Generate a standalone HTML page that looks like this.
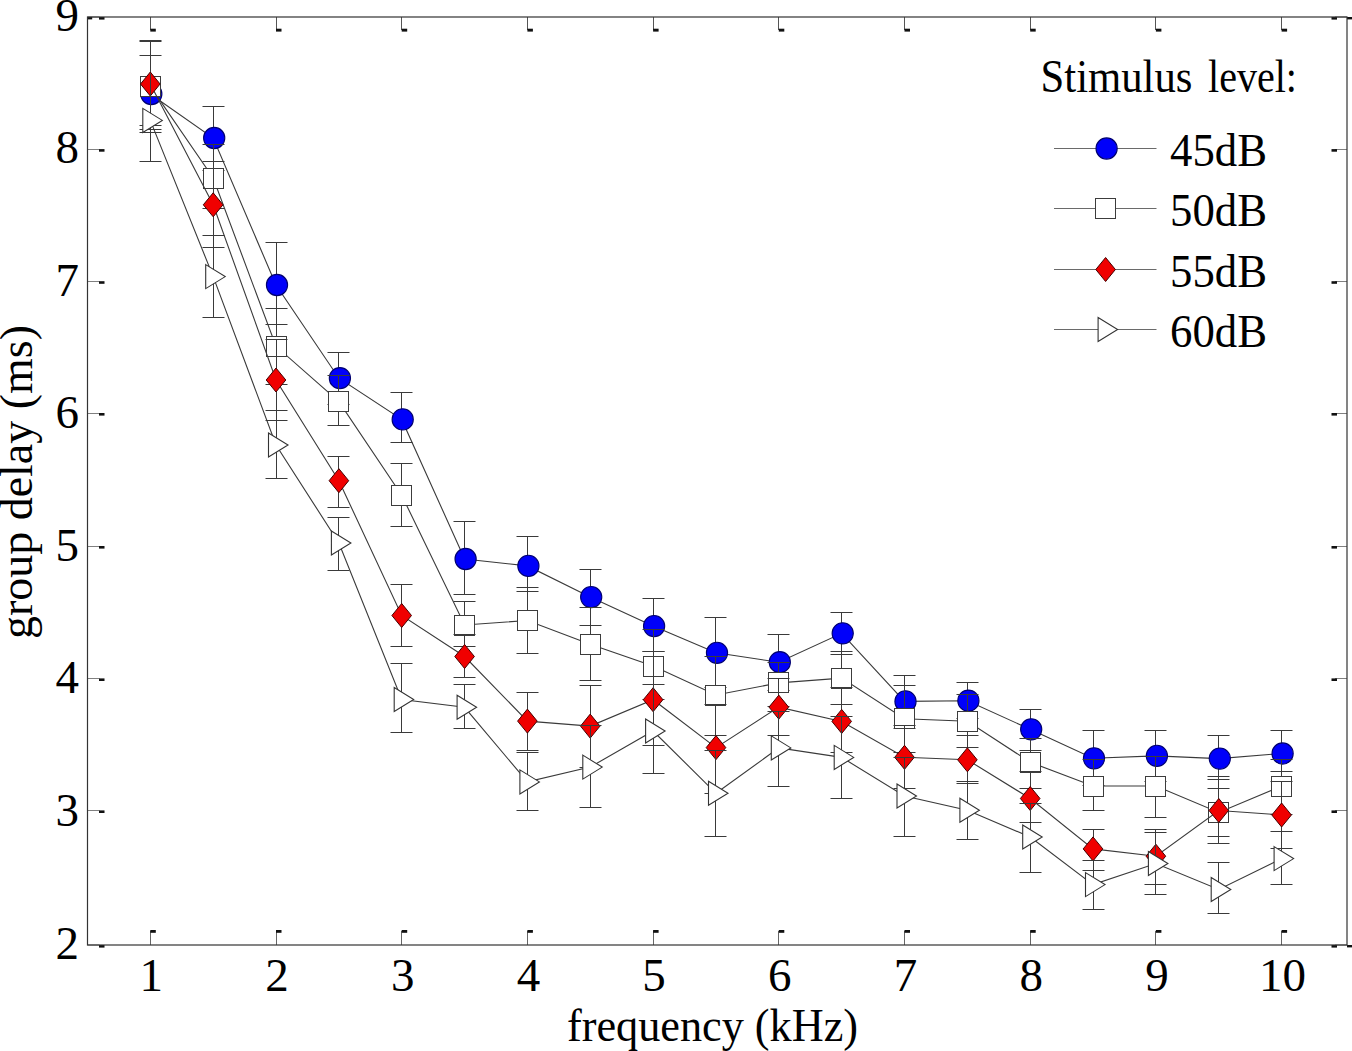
<!DOCTYPE html>
<html><head><meta charset="utf-8"><title>group delay chart</title>
<style>html,body{margin:0;padding:0;background:#fff;} svg{display:block;}</style>
</head><body>
<svg width="1352" height="1051" viewBox="0 0 1352 1051">
<rect width="1352" height="1051" fill="#fff"/>
<line x1="87.5" y1="945.0" x2="99.5" y2="945.0" stroke="#808080" stroke-width="1"/>
<rect x="99.0" y="945.0" width="5.5" height="2.6" fill="#111"/>
<line x1="1347" y1="945.0" x2="1335" y2="945.0" stroke="#808080" stroke-width="1"/>
<rect x="1331.5" y="945.0" width="5.5" height="2.6" fill="#111"/>
<line x1="87.5" y1="810.5" x2="99.5" y2="810.5" stroke="#808080" stroke-width="1"/>
<rect x="99.0" y="810.4" width="5.5" height="2.6" fill="#111"/>
<line x1="1347" y1="810.5" x2="1335" y2="810.5" stroke="#808080" stroke-width="1"/>
<rect x="1331.5" y="810.4" width="5.5" height="2.6" fill="#111"/>
<line x1="87.5" y1="678.5" x2="99.5" y2="678.5" stroke="#808080" stroke-width="1"/>
<rect x="99.0" y="678.4" width="5.5" height="2.6" fill="#111"/>
<line x1="1347" y1="678.5" x2="1335" y2="678.5" stroke="#808080" stroke-width="1"/>
<rect x="1331.5" y="678.4" width="5.5" height="2.6" fill="#111"/>
<line x1="87.5" y1="546.5" x2="99.5" y2="546.5" stroke="#808080" stroke-width="1"/>
<rect x="99.0" y="546.0" width="5.5" height="2.6" fill="#111"/>
<line x1="1347" y1="546.5" x2="1335" y2="546.5" stroke="#808080" stroke-width="1"/>
<rect x="1331.5" y="546.0" width="5.5" height="2.6" fill="#111"/>
<line x1="87.5" y1="413.5" x2="99.5" y2="413.5" stroke="#808080" stroke-width="1"/>
<rect x="99.0" y="413.0" width="5.5" height="2.6" fill="#111"/>
<line x1="1347" y1="413.5" x2="1335" y2="413.5" stroke="#808080" stroke-width="1"/>
<rect x="1331.5" y="413.0" width="5.5" height="2.6" fill="#111"/>
<line x1="87.5" y1="281.5" x2="99.5" y2="281.5" stroke="#808080" stroke-width="1"/>
<rect x="99.0" y="281.2" width="5.5" height="2.6" fill="#111"/>
<line x1="1347" y1="281.5" x2="1335" y2="281.5" stroke="#808080" stroke-width="1"/>
<rect x="1331.5" y="281.2" width="5.5" height="2.6" fill="#111"/>
<line x1="87.5" y1="149.5" x2="99.5" y2="149.5" stroke="#808080" stroke-width="1"/>
<rect x="99.0" y="149.1" width="5.5" height="2.6" fill="#111"/>
<line x1="1347" y1="149.5" x2="1335" y2="149.5" stroke="#808080" stroke-width="1"/>
<rect x="1331.5" y="149.1" width="5.5" height="2.6" fill="#111"/>
<line x1="87.5" y1="17.0" x2="99.5" y2="17.0" stroke="#808080" stroke-width="1"/>
<rect x="99.0" y="17.0" width="5.5" height="2.6" fill="#111"/>
<line x1="1347" y1="17.0" x2="1335" y2="17.0" stroke="#808080" stroke-width="1"/>
<rect x="1331.5" y="17.0" width="5.5" height="2.6" fill="#111"/>
<line x1="150.5" y1="945" x2="150.5" y2="931" stroke="#666" stroke-width="1"/>
<rect x="150.3" y="930.0" width="5.5" height="2.8" fill="#111"/>
<line x1="150.5" y1="17" x2="150.5" y2="30" stroke="#555" stroke-width="1"/>
<rect x="150.3" y="28.7" width="5.5" height="2.9" fill="#111"/>
<line x1="276.5" y1="945" x2="276.5" y2="931" stroke="#666" stroke-width="1"/>
<rect x="276.0" y="930.0" width="5.5" height="2.8" fill="#111"/>
<line x1="276.5" y1="17" x2="276.5" y2="30" stroke="#555" stroke-width="1"/>
<rect x="276.0" y="28.7" width="5.5" height="2.9" fill="#111"/>
<line x1="401.5" y1="945" x2="401.5" y2="931" stroke="#666" stroke-width="1"/>
<rect x="401.7" y="930.0" width="5.5" height="2.8" fill="#111"/>
<line x1="401.5" y1="17" x2="401.5" y2="30" stroke="#555" stroke-width="1"/>
<rect x="401.7" y="28.7" width="5.5" height="2.9" fill="#111"/>
<line x1="527.5" y1="945" x2="527.5" y2="931" stroke="#666" stroke-width="1"/>
<rect x="527.4" y="930.0" width="5.5" height="2.8" fill="#111"/>
<line x1="527.5" y1="17" x2="527.5" y2="30" stroke="#555" stroke-width="1"/>
<rect x="527.4" y="28.7" width="5.5" height="2.9" fill="#111"/>
<line x1="653.5" y1="945" x2="653.5" y2="931" stroke="#666" stroke-width="1"/>
<rect x="653.1" y="930.0" width="5.5" height="2.8" fill="#111"/>
<line x1="653.5" y1="17" x2="653.5" y2="30" stroke="#555" stroke-width="1"/>
<rect x="653.1" y="28.7" width="5.5" height="2.9" fill="#111"/>
<line x1="778.5" y1="945" x2="778.5" y2="931" stroke="#666" stroke-width="1"/>
<rect x="778.8" y="930.0" width="5.5" height="2.8" fill="#111"/>
<line x1="778.5" y1="17" x2="778.5" y2="30" stroke="#555" stroke-width="1"/>
<rect x="778.8" y="28.7" width="5.5" height="2.9" fill="#111"/>
<line x1="904.5" y1="945" x2="904.5" y2="931" stroke="#666" stroke-width="1"/>
<rect x="904.5" y="930.0" width="5.5" height="2.8" fill="#111"/>
<line x1="904.5" y1="17" x2="904.5" y2="30" stroke="#555" stroke-width="1"/>
<rect x="904.5" y="28.7" width="5.5" height="2.9" fill="#111"/>
<line x1="1030.5" y1="945" x2="1030.5" y2="931" stroke="#666" stroke-width="1"/>
<rect x="1030.2" y="930.0" width="5.5" height="2.8" fill="#111"/>
<line x1="1030.5" y1="17" x2="1030.5" y2="30" stroke="#555" stroke-width="1"/>
<rect x="1030.2" y="28.7" width="5.5" height="2.9" fill="#111"/>
<line x1="1155.5" y1="945" x2="1155.5" y2="931" stroke="#666" stroke-width="1"/>
<rect x="1155.9" y="930.0" width="5.5" height="2.8" fill="#111"/>
<line x1="1155.5" y1="17" x2="1155.5" y2="30" stroke="#555" stroke-width="1"/>
<rect x="1155.9" y="28.7" width="5.5" height="2.9" fill="#111"/>
<line x1="1281.5" y1="945" x2="1281.5" y2="931" stroke="#666" stroke-width="1"/>
<rect x="1281.6" y="930.0" width="5.5" height="2.8" fill="#111"/>
<line x1="1281.5" y1="17" x2="1281.5" y2="30" stroke="#555" stroke-width="1"/>
<rect x="1281.6" y="28.7" width="5.5" height="2.9" fill="#111"/>
<rect x="87.2" y="17" width="5" height="2.4" fill="#111"/>
<rect x="1347" y="17" width="5" height="2.4" fill="#111"/>
<rect x="1347" y="945" width="5" height="2.4" fill="#111"/>
<rect x="87.5" y="17" width="1259.5" height="928" fill="none" stroke="#333" stroke-width="1.2"/>
<path d="M150.5,55.5V132.5M139.5,132.5H161.5M139.5,55.5H161.5M213.5,106.5V170.5M202.5,170.5H224.5M202.5,106.5H224.5M276.5,242.5V324.5M265.5,324.5H287.5M265.5,242.5H287.5M338.5,352.5V404.5M327.5,404.5H349.5M327.5,352.5H349.5M401.5,392.5V442.5M390.5,442.5H412.5M390.5,392.5H412.5M464.5,521.5V594.5M453.5,594.5H475.5M453.5,521.5H475.5M527.5,536.5V591.5M516.5,591.5H538.5M516.5,536.5H538.5M590.5,569.5V625.5M579.5,625.5H601.5M579.5,569.5H601.5M653.5,598.5V651.5M642.5,651.5H664.5M642.5,598.5H664.5M715.5,617.5V687.5M704.5,687.5H726.5M704.5,617.5H726.5M778.5,634.5V690.5M767.5,690.5H789.5M767.5,634.5H789.5M841.5,612.5V654.5M830.5,654.5H852.5M830.5,612.5H852.5M904.5,675.5V728.5M893.5,728.5H915.5M893.5,675.5H915.5M967.5,682.5V718.5M956.5,718.5H978.5M956.5,682.5H978.5M1030.5,709.5V750.5M1019.5,750.5H1041.5M1019.5,709.5H1041.5M1093.5,730.5V785.5M1082.5,785.5H1104.5M1082.5,730.5H1104.5M1155.5,730.5V781.5M1144.5,781.5H1166.5M1144.5,730.5H1166.5M1218.5,735.5V779.5M1207.5,779.5H1229.5M1207.5,735.5H1229.5M1281.5,730.5V771.5M1270.5,771.5H1292.5M1270.5,730.5H1292.5" stroke="#3a3a3a" stroke-width="1" fill="none"/>
<polyline points="150.3,94.0 213.2,138.0 276.0,285.0 338.9,378.2 401.7,419.4 464.6,559.0 527.4,565.9 590.2,597.1 653.1,626.1 716.0,652.8 778.8,662.2 841.7,633.3 904.5,701.4 967.4,700.7 1030.2,729.3 1093.0,758.3 1155.9,755.9 1218.8,758.6 1281.6,753.5" stroke="#3a3a3a" stroke-width="1.1" fill="none"/>
<circle cx="151.3" cy="94.0" r="10.6" fill="#0000fa" stroke="#000070" stroke-width="1.1"/>
<circle cx="214.2" cy="138.0" r="10.6" fill="#0000fa" stroke="#000070" stroke-width="1.1"/>
<circle cx="277.0" cy="285.0" r="10.6" fill="#0000fa" stroke="#000070" stroke-width="1.1"/>
<circle cx="339.9" cy="378.2" r="10.6" fill="#0000fa" stroke="#000070" stroke-width="1.1"/>
<circle cx="402.7" cy="419.4" r="10.6" fill="#0000fa" stroke="#000070" stroke-width="1.1"/>
<circle cx="465.6" cy="559.0" r="10.6" fill="#0000fa" stroke="#000070" stroke-width="1.1"/>
<circle cx="528.4" cy="565.9" r="10.6" fill="#0000fa" stroke="#000070" stroke-width="1.1"/>
<circle cx="591.2" cy="597.1" r="10.6" fill="#0000fa" stroke="#000070" stroke-width="1.1"/>
<circle cx="654.1" cy="626.1" r="10.6" fill="#0000fa" stroke="#000070" stroke-width="1.1"/>
<circle cx="717.0" cy="652.8" r="10.6" fill="#0000fa" stroke="#000070" stroke-width="1.1"/>
<circle cx="779.8" cy="662.2" r="10.6" fill="#0000fa" stroke="#000070" stroke-width="1.1"/>
<circle cx="842.7" cy="633.3" r="10.6" fill="#0000fa" stroke="#000070" stroke-width="1.1"/>
<circle cx="905.5" cy="701.4" r="10.6" fill="#0000fa" stroke="#000070" stroke-width="1.1"/>
<circle cx="968.4" cy="700.7" r="10.6" fill="#0000fa" stroke="#000070" stroke-width="1.1"/>
<circle cx="1031.2" cy="729.3" r="10.6" fill="#0000fa" stroke="#000070" stroke-width="1.1"/>
<circle cx="1094.0" cy="758.3" r="10.6" fill="#0000fa" stroke="#000070" stroke-width="1.1"/>
<circle cx="1156.9" cy="755.9" r="10.6" fill="#0000fa" stroke="#000070" stroke-width="1.1"/>
<circle cx="1219.8" cy="758.6" r="10.6" fill="#0000fa" stroke="#000070" stroke-width="1.1"/>
<circle cx="1282.6" cy="753.5" r="10.6" fill="#0000fa" stroke="#000070" stroke-width="1.1"/>
<path d="M150.5,41.5V129.5M139.5,129.5H161.5M139.5,41.5H161.5M213.5,144.5V208.5M202.5,208.5H224.5M202.5,144.5H224.5M276.5,308.5V384.5M265.5,384.5H287.5M265.5,308.5H287.5M338.5,375.5V425.5M327.5,425.5H349.5M327.5,375.5H349.5M401.5,463.5V526.5M390.5,526.5H412.5M390.5,463.5H412.5M464.5,601.5V646.5M453.5,646.5H475.5M453.5,601.5H475.5M527.5,587.5V653.5M516.5,653.5H538.5M516.5,587.5H538.5M590.5,607.5V680.5M579.5,680.5H601.5M579.5,607.5H601.5M653.5,629.5V699.5M642.5,699.5H664.5M642.5,629.5H664.5M715.5,656.5V735.5M704.5,735.5H726.5M704.5,656.5H726.5M778.5,662.5V706.5M767.5,706.5H789.5M767.5,662.5H789.5M841.5,651.5V704.5M830.5,704.5H852.5M830.5,651.5H852.5M904.5,685.5V752.5M893.5,752.5H915.5M893.5,685.5H915.5M967.5,694.5V747.5M956.5,747.5H978.5M956.5,694.5H978.5M1030.5,738.5V788.5M1019.5,788.5H1041.5M1019.5,738.5H1041.5M1093.5,759.5V810.5M1082.5,810.5H1104.5M1082.5,759.5H1104.5M1155.5,756.5V817.5M1144.5,817.5H1166.5M1144.5,756.5H1166.5M1218.5,788.5V836.5M1207.5,836.5H1229.5M1207.5,788.5H1229.5M1281.5,759.5V814.5M1270.5,814.5H1292.5M1270.5,759.5H1292.5" stroke="#3a3a3a" stroke-width="1" fill="none"/>
<polyline points="150.3,86.4 213.2,178.0 276.0,346.3 338.9,401.7 401.7,495.2 464.6,625.0 527.4,620.5 590.2,644.3 653.1,666.0 716.0,695.0 778.8,682.9 841.7,678.1 904.5,718.7 967.4,721.2 1030.2,762.2 1093.0,786.0 1155.9,786.0 1218.8,812.5 1281.6,786.0" stroke="#3a3a3a" stroke-width="1.1" fill="none"/>
<rect x="140.5" y="76.5" width="20" height="20" fill="#fff" stroke="#3c3c3c" stroke-width="1"/>
<rect x="203.5" y="168.5" width="20" height="20" fill="#fff" stroke="#3c3c3c" stroke-width="1"/>
<rect x="266.5" y="336.5" width="20" height="20" fill="#fff" stroke="#3c3c3c" stroke-width="1"/>
<rect x="328.5" y="391.5" width="20" height="20" fill="#fff" stroke="#3c3c3c" stroke-width="1"/>
<rect x="391.5" y="485.5" width="20" height="20" fill="#fff" stroke="#3c3c3c" stroke-width="1"/>
<rect x="454.5" y="615.5" width="20" height="20" fill="#fff" stroke="#3c3c3c" stroke-width="1"/>
<rect x="517.5" y="610.5" width="20" height="20" fill="#fff" stroke="#3c3c3c" stroke-width="1"/>
<rect x="580.5" y="634.5" width="20" height="20" fill="#fff" stroke="#3c3c3c" stroke-width="1"/>
<rect x="643.5" y="656.5" width="20" height="20" fill="#fff" stroke="#3c3c3c" stroke-width="1"/>
<rect x="705.5" y="685.5" width="20" height="20" fill="#fff" stroke="#3c3c3c" stroke-width="1"/>
<rect x="768.5" y="672.5" width="20" height="20" fill="#fff" stroke="#3c3c3c" stroke-width="1"/>
<rect x="831.5" y="668.5" width="20" height="20" fill="#fff" stroke="#3c3c3c" stroke-width="1"/>
<rect x="894.5" y="708.5" width="20" height="20" fill="#fff" stroke="#3c3c3c" stroke-width="1"/>
<rect x="957.5" y="711.5" width="20" height="20" fill="#fff" stroke="#3c3c3c" stroke-width="1"/>
<rect x="1020.5" y="752.5" width="20" height="20" fill="#fff" stroke="#3c3c3c" stroke-width="1"/>
<rect x="1083.5" y="776.5" width="20" height="20" fill="#fff" stroke="#3c3c3c" stroke-width="1"/>
<rect x="1145.5" y="776.5" width="20" height="20" fill="#fff" stroke="#3c3c3c" stroke-width="1"/>
<rect x="1208.5" y="802.5" width="20" height="20" fill="#fff" stroke="#3c3c3c" stroke-width="1"/>
<rect x="1271.5" y="776.5" width="20" height="20" fill="#fff" stroke="#3c3c3c" stroke-width="1"/>
<path d="M150.5,40.5V125.5M139.5,125.5H161.5M139.5,40.5H161.5M213.5,161.5V247.5M202.5,247.5H224.5M202.5,161.5H224.5M276.5,339.5V420.5M265.5,420.5H287.5M265.5,339.5H287.5M338.5,456.5V507.5M327.5,507.5H349.5M327.5,456.5H349.5M401.5,584.5V646.5M390.5,646.5H412.5M390.5,584.5H412.5M464.5,634.5V677.5M453.5,677.5H475.5M453.5,634.5H475.5M527.5,692.5V750.5M516.5,750.5H538.5M516.5,692.5H538.5M590.5,685.5V767.5M579.5,767.5H601.5M579.5,685.5H601.5M653.5,651.5V745.5M642.5,745.5H664.5M642.5,651.5H664.5M715.5,704.5V793.5M704.5,793.5H726.5M704.5,704.5H726.5M778.5,678.5V735.5M767.5,735.5H789.5M767.5,678.5H789.5M841.5,687.5V752.5M830.5,752.5H852.5M830.5,687.5H852.5M904.5,725.5V788.5M893.5,788.5H915.5M893.5,725.5H915.5M967.5,735.5V783.5M956.5,783.5H978.5M956.5,735.5H978.5M1030.5,771.5V822.5M1019.5,822.5H1041.5M1019.5,771.5H1041.5M1093.5,829.5V870.5M1082.5,870.5H1104.5M1082.5,829.5H1104.5M1155.5,829.5V884.5M1144.5,884.5H1166.5M1144.5,829.5H1166.5M1218.5,776.5V843.5M1207.5,843.5H1229.5M1207.5,776.5H1229.5M1281.5,781.5V848.5M1270.5,848.5H1292.5M1270.5,781.5H1292.5" stroke="#3a3a3a" stroke-width="1" fill="none"/>
<polyline points="150.3,84.0 213.2,204.8 276.0,380.0 338.9,480.7 401.7,615.5 464.6,656.5 527.4,721.1 590.2,726.1 653.1,699.7 716.0,747.6 778.8,707.1 841.7,721.4 904.5,757.3 967.4,759.8 1030.2,798.5 1093.0,848.9 1155.9,856.2 1218.8,810.5 1281.6,815.0" stroke="#3a3a3a" stroke-width="1.1" fill="none"/>
<polygon points="150.3,72.0 160.1,84.0 150.3,96.0 140.5,84.0" fill="#f00000" stroke="#400" stroke-width="1"/>
<polygon points="213.2,192.8 223.0,204.8 213.2,216.8 203.3,204.8" fill="#f00000" stroke="#400" stroke-width="1"/>
<polygon points="276.0,368.0 285.8,380.0 276.0,392.0 266.2,380.0" fill="#f00000" stroke="#400" stroke-width="1"/>
<polygon points="338.9,468.7 348.7,480.7 338.9,492.7 329.1,480.7" fill="#f00000" stroke="#400" stroke-width="1"/>
<polygon points="401.7,603.5 411.5,615.5 401.7,627.5 391.9,615.5" fill="#f00000" stroke="#400" stroke-width="1"/>
<polygon points="464.6,644.5 474.4,656.5 464.6,668.5 454.8,656.5" fill="#f00000" stroke="#400" stroke-width="1"/>
<polygon points="527.4,709.1 537.2,721.1 527.4,733.1 517.6,721.1" fill="#f00000" stroke="#400" stroke-width="1"/>
<polygon points="590.2,714.1 600.0,726.1 590.2,738.1 580.5,726.1" fill="#f00000" stroke="#400" stroke-width="1"/>
<polygon points="653.1,687.7 662.9,699.7 653.1,711.7 643.3,699.7" fill="#f00000" stroke="#400" stroke-width="1"/>
<polygon points="716.0,735.6 725.8,747.6 716.0,759.6 706.2,747.6" fill="#f00000" stroke="#400" stroke-width="1"/>
<polygon points="778.8,695.1 788.6,707.1 778.8,719.1 769.0,707.1" fill="#f00000" stroke="#400" stroke-width="1"/>
<polygon points="841.7,709.4 851.5,721.4 841.7,733.4 831.9,721.4" fill="#f00000" stroke="#400" stroke-width="1"/>
<polygon points="904.5,745.3 914.3,757.3 904.5,769.3 894.7,757.3" fill="#f00000" stroke="#400" stroke-width="1"/>
<polygon points="967.4,747.8 977.2,759.8 967.4,771.8 957.6,759.8" fill="#f00000" stroke="#400" stroke-width="1"/>
<polygon points="1030.2,786.5 1040.0,798.5 1030.2,810.5 1020.4,798.5" fill="#f00000" stroke="#400" stroke-width="1"/>
<polygon points="1093.0,836.9 1102.8,848.9 1093.0,860.9 1083.2,848.9" fill="#f00000" stroke="#400" stroke-width="1"/>
<polygon points="1155.9,844.2 1165.7,856.2 1155.9,868.2 1146.1,856.2" fill="#f00000" stroke="#400" stroke-width="1"/>
<polygon points="1218.8,798.5 1228.5,810.5 1218.8,822.5 1209.0,810.5" fill="#f00000" stroke="#400" stroke-width="1"/>
<polygon points="1281.6,803.0 1291.4,815.0 1281.6,827.0 1271.8,815.0" fill="#f00000" stroke="#400" stroke-width="1"/>
<path d="M150.5,73.5V161.5M139.5,161.5H161.5M213.5,235.5V317.5M202.5,317.5H224.5M202.5,235.5H224.5M276.5,410.5V478.5M265.5,478.5H287.5M265.5,410.5H287.5M338.5,517.5V570.5M327.5,570.5H349.5M327.5,517.5H349.5M401.5,663.5V732.5M390.5,732.5H412.5M390.5,663.5H412.5M464.5,684.5V728.5M453.5,728.5H475.5M453.5,684.5H475.5M527.5,752.5V810.5M516.5,810.5H538.5M516.5,752.5H538.5M590.5,725.5V807.5M579.5,807.5H601.5M579.5,725.5H601.5M653.5,684.5V773.5M642.5,773.5H664.5M642.5,684.5H664.5M715.5,750.5V836.5M704.5,836.5H726.5M704.5,750.5H726.5M778.5,711.5V786.5M767.5,786.5H789.5M767.5,711.5H789.5M841.5,716.5V798.5M830.5,798.5H852.5M830.5,716.5H852.5M904.5,757.5V836.5M893.5,836.5H915.5M893.5,757.5H915.5M967.5,781.5V839.5M956.5,839.5H978.5M956.5,781.5H978.5M1030.5,803.5V872.5M1019.5,872.5H1041.5M1019.5,803.5H1041.5M1093.5,860.5V909.5M1082.5,909.5H1104.5M1082.5,860.5H1104.5M1155.5,832.5V894.5M1144.5,894.5H1166.5M1144.5,832.5H1166.5M1218.5,862.5V913.5M1207.5,913.5H1229.5M1207.5,862.5H1229.5M1281.5,831.5V884.5M1270.5,884.5H1292.5M1270.5,831.5H1292.5" stroke="#3a3a3a" stroke-width="1" fill="none"/>
<polyline points="150.3,120.4 213.2,276.6 276.0,445.0 338.9,543.0 401.7,699.5 464.6,707.3 527.4,781.9 590.2,767.1 653.1,731.0 716.0,793.3 778.8,747.9 841.7,757.4 904.5,796.0 967.4,810.3 1030.2,837.0 1093.0,884.6 1155.9,863.5 1218.8,889.5 1281.6,858.6" stroke="#3a3a3a" stroke-width="1.1" fill="none"/>
<polygon points="142.8,108.4 162.3,120.4 142.8,132.4" fill="#fff" stroke="#333" stroke-width="1.1"/>
<polygon points="205.7,264.6 225.2,276.6 205.7,288.6" fill="#fff" stroke="#333" stroke-width="1.1"/>
<polygon points="268.5,433.0 288.0,445.0 268.5,457.0" fill="#fff" stroke="#333" stroke-width="1.1"/>
<polygon points="331.4,531.0 350.9,543.0 331.4,555.0" fill="#fff" stroke="#333" stroke-width="1.1"/>
<polygon points="394.2,687.5 413.7,699.5 394.2,711.5" fill="#fff" stroke="#333" stroke-width="1.1"/>
<polygon points="457.1,695.3 476.6,707.3 457.1,719.3" fill="#fff" stroke="#333" stroke-width="1.1"/>
<polygon points="519.9,769.9 539.4,781.9 519.9,793.9" fill="#fff" stroke="#333" stroke-width="1.1"/>
<polygon points="582.8,755.1 602.2,767.1 582.8,779.1" fill="#fff" stroke="#333" stroke-width="1.1"/>
<polygon points="645.6,719.0 665.1,731.0 645.6,743.0" fill="#fff" stroke="#333" stroke-width="1.1"/>
<polygon points="708.5,781.3 728.0,793.3 708.5,805.3" fill="#fff" stroke="#333" stroke-width="1.1"/>
<polygon points="771.3,735.9 790.8,747.9 771.3,759.9" fill="#fff" stroke="#333" stroke-width="1.1"/>
<polygon points="834.2,745.4 853.7,757.4 834.2,769.4" fill="#fff" stroke="#333" stroke-width="1.1"/>
<polygon points="897.0,784.0 916.5,796.0 897.0,808.0" fill="#fff" stroke="#333" stroke-width="1.1"/>
<polygon points="959.9,798.3 979.4,810.3 959.9,822.3" fill="#fff" stroke="#333" stroke-width="1.1"/>
<polygon points="1022.7,825.0 1042.2,837.0 1022.7,849.0" fill="#fff" stroke="#333" stroke-width="1.1"/>
<polygon points="1085.5,872.6 1105.0,884.6 1085.5,896.6" fill="#fff" stroke="#333" stroke-width="1.1"/>
<polygon points="1148.4,851.5 1167.9,863.5 1148.4,875.5" fill="#fff" stroke="#333" stroke-width="1.1"/>
<polygon points="1211.2,877.5 1230.8,889.5 1211.2,901.5" fill="#fff" stroke="#333" stroke-width="1.1"/>
<polygon points="1274.1,846.6 1293.6,858.6 1274.1,870.6" fill="#fff" stroke="#333" stroke-width="1.1"/>
<text x="79" y="958.5" font-family="'Liberation Serif', serif" font-size="47" text-anchor="end">2</text>
<text x="79" y="825.9" font-family="'Liberation Serif', serif" font-size="47" text-anchor="end">3</text>
<text x="79" y="693.4" font-family="'Liberation Serif', serif" font-size="47" text-anchor="end">4</text>
<text x="79" y="560.8" font-family="'Liberation Serif', serif" font-size="47" text-anchor="end">5</text>
<text x="79" y="428.2" font-family="'Liberation Serif', serif" font-size="47" text-anchor="end">6</text>
<text x="79" y="295.7" font-family="'Liberation Serif', serif" font-size="47" text-anchor="end">7</text>
<text x="79" y="163.1" font-family="'Liberation Serif', serif" font-size="47" text-anchor="end">8</text>
<text x="79" y="30.5" font-family="'Liberation Serif', serif" font-size="47" text-anchor="end">9</text>
<text x="151.3" y="991" font-family="'Liberation Serif', serif" font-size="47" text-anchor="middle">1</text>
<text x="277.0" y="991" font-family="'Liberation Serif', serif" font-size="47" text-anchor="middle">2</text>
<text x="402.7" y="991" font-family="'Liberation Serif', serif" font-size="47" text-anchor="middle">3</text>
<text x="528.4" y="991" font-family="'Liberation Serif', serif" font-size="47" text-anchor="middle">4</text>
<text x="654.1" y="991" font-family="'Liberation Serif', serif" font-size="47" text-anchor="middle">5</text>
<text x="779.8" y="991" font-family="'Liberation Serif', serif" font-size="47" text-anchor="middle">6</text>
<text x="905.5" y="991" font-family="'Liberation Serif', serif" font-size="47" text-anchor="middle">7</text>
<text x="1031.2" y="991" font-family="'Liberation Serif', serif" font-size="47" text-anchor="middle">8</text>
<text x="1156.9" y="991" font-family="'Liberation Serif', serif" font-size="47" text-anchor="middle">9</text>
<text x="1282.6" y="991" font-family="'Liberation Serif', serif" font-size="47" text-anchor="middle">10</text>
<text x="567" y="1041" font-family="'Liberation Serif', serif" font-size="47" textLength="291" lengthAdjust="spacingAndGlyphs">frequency (kHz)</text>
<text transform="translate(31.5,639) rotate(-90)" font-family="'Liberation Serif', serif" font-size="46" textLength="314" lengthAdjust="spacingAndGlyphs">group delay (ms)</text>
<text x="1040.5" y="91.5" font-family="'Liberation Serif', serif" font-size="47" textLength="152" lengthAdjust="spacingAndGlyphs">Stimulus</text>
<text x="1208" y="91.5" font-family="'Liberation Serif', serif" font-size="47" textLength="89" lengthAdjust="spacingAndGlyphs">level:</text>
<line x1="1054" y1="148.5" x2="1156.5" y2="148.5" stroke="#6a6a6a" stroke-width="1"/>
<circle cx="1106.6" cy="148.5" r="10.6" fill="#0000fa" stroke="#000070" stroke-width="1.1"/>
<text x="1170" y="165.5" font-family="'Liberation Serif', serif" font-size="47" textLength="97" lengthAdjust="spacingAndGlyphs">45dB</text>
<line x1="1054" y1="208.5" x2="1156.5" y2="208.5" stroke="#6a6a6a" stroke-width="1"/>
<rect x="1095.5" y="198.5" width="20" height="20" fill="#fff" stroke="#3c3c3c" stroke-width="1"/>
<text x="1170" y="225.5" font-family="'Liberation Serif', serif" font-size="47" textLength="97" lengthAdjust="spacingAndGlyphs">50dB</text>
<line x1="1054" y1="269.5" x2="1156.5" y2="269.5" stroke="#6a6a6a" stroke-width="1"/>
<polygon points="1105.6,257.5 1115.4,269.5 1105.6,281.5 1095.8,269.5" fill="#f00000" stroke="#400" stroke-width="1"/>
<text x="1170" y="286.5" font-family="'Liberation Serif', serif" font-size="47" textLength="97" lengthAdjust="spacingAndGlyphs">55dB</text>
<line x1="1054" y1="329.5" x2="1156.5" y2="329.5" stroke="#6a6a6a" stroke-width="1"/>
<polygon points="1098.1,317.5 1117.6,329.5 1098.1,341.5" fill="#fff" stroke="#333" stroke-width="1.1"/>
<text x="1170" y="346.5" font-family="'Liberation Serif', serif" font-size="47" textLength="97" lengthAdjust="spacingAndGlyphs">60dB</text>
</svg>
</body></html>
